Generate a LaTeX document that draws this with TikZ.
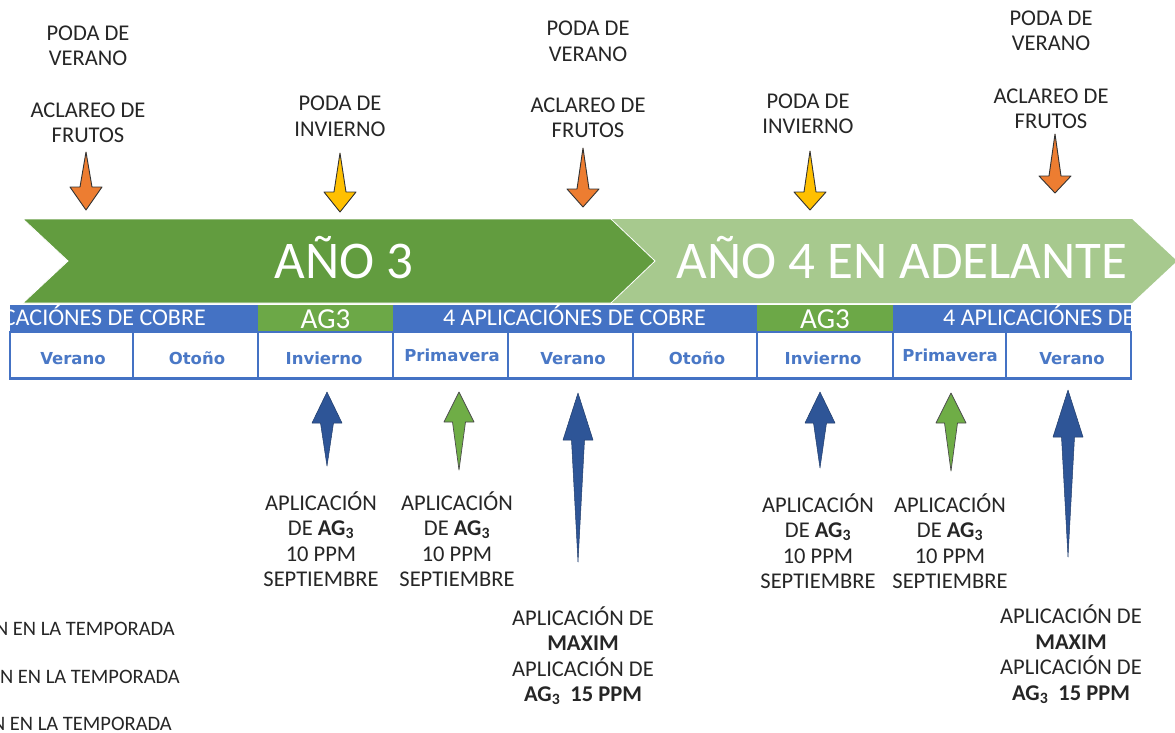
\documentclass[tikz,border=0pt]{standalone}
\usepackage{fontspec}
\setmainfont{Carlito}
\newfontfamily\seasonfont{DejaVu Sans}
\definecolor{bandDark}{HTML}{629C3F}
\definecolor{bandLight}{HTML}{A7C98E}
\definecolor{agGreen}{HTML}{6CA847}
\definecolor{cuBlue}{HTML}{4472C4}
\definecolor{seasonBlue}{HTML}{4A78C6}
\definecolor{arrOrange}{HTML}{ED7D31}
\definecolor{arrYellow}{HTML}{FFC000}
\definecolor{arrBlue}{HTML}{2E5597}
\definecolor{arrGreen}{HTML}{6FAD46}
\definecolor{txtDark}{HTML}{262626}
\newcommand\TaperDown[5]{\draw[#1] (#2,#3) -- (#2+6,#4) -- (#2+16,#4) -- (#2,#5) -- (#2-16,#4) -- (#2-6,#4) -- cycle;}
\newcommand\TaperUp[5]{\draw[#1] (#2,#3) -- (#2+15,#4) -- (#2+6.5,#4) -- (#2,#5) -- (#2-6.5,#4) -- (#2-15,#4) -- cycle;}
\begin{document}
\begin{tikzpicture}[x=1pt,y=-1pt,
  lbl/.style={align=center, font=\fontsize{22.5}{25.5}\selectfont, text=txtDark, inner sep=0pt},
  legend/.style={font=\fontsize{20.5}{24}\selectfont, text=txtDark, inner sep=0pt, anchor=base east},
  bandtext/.style={font=\fontsize{53}{60}\selectfont, text=white, inner sep=0pt, anchor=base},
  cutext/.style={font=\fontsize{24}{28}\selectfont, text=white, inner sep=0pt, anchor=base},
  agtext/.style={font=\fontsize{29}{32}\selectfont, text=white, inner sep=0pt, anchor=base},
  cuseg/.style={fill=cuBlue, draw=none, inner sep=0pt, minimum height=27pt},
  agseg/.style={fill=agGreen, draw=none, inner sep=0pt, minimum height=27pt},
  season/.style={draw=cuBlue, line width=1.2pt, fill=white, inner sep=0pt, minimum height=46pt},
  seasontext/.style={font=\seasonfont\bfseries\fontsize{16.5}{20}\selectfont, text=seasonBlue, inner sep=0pt, anchor=base},
  dnorange/.style={fill=arrOrange, draw=black!80, line width=0.9pt, line join=round},
  dnyellow/.style={fill=arrYellow, draw=black!80, line width=0.9pt, line join=round},
  upblue/.style={fill=arrBlue, draw=arrBlue!70!black, line width=0.5pt, line join=round},
  upgreen/.style={fill=arrGreen, draw=black!70, line width=0.7pt, line join=round}]
\useasboundingbox (0,0) rectangle (1175,733);
\clip (0,0) rectangle (1175,733);
\fill[white] (0,0) rectangle (1175,733);

% year bands
\fill[bandLight] (611,219) -- (1132,219) -- (1177,261) -- (1132,303) -- (611,303) -- (655,261) -- cycle;
\filldraw[fill=bandDark, draw=white, line width=0.8pt] (23,219) -- (611,219) -- (655,261) -- (611,303) -- (23,303) -- (68,261) -- cycle;
\node[bandtext] (y3) at (344,278) {AÑO 3};
\node[bandtext] (y4) at (902,278) {AÑO 4 EN ADELANTE};

% copper / AG3 bar
\node[cuseg, minimum width=248pt] (cu1) at (134,318) {};
\node[agseg, minimum width=135pt] (ag1) at (325.5,318) {};
\node[cuseg, minimum width=364pt] (cu2) at (575,318) {};
\node[agseg, minimum width=136pt] (ag2) at (825,318) {};
\node[cuseg, minimum width=238pt] (cu3) at (1012,318) {};
\begin{scope}
  \clip (cu1.north west) rectangle (cu1.south east);
  \node[cutext, anchor=base east] (cu1t) at (206,325) {4 APLICACIÓNES DE COBRE};
\end{scope}
\node[cutext] (cu2t) at (574.5,325) {4 APLICACIÓNES DE COBRE};
\begin{scope}
  \clip (cu3.north west) rectangle (cu3.south east);
  \node[cutext, anchor=base west] (cu3t) at (943,325) {4 APLICACIÓNES DE COBRE};
\end{scope}
\node[agtext] (ag1t) at (325.5,328) {AG3};
\node[agtext] (ag2t) at (825,328) {AG3};

% seasons
\node[season, minimum width=123pt] (s1) at (71.5,355) {};
\node[season, minimum width=125pt] (s2) at (195.5,355) {};
\node[season, minimum width=135pt] (s3) at (325.5,355) {};
\node[season, minimum width=115pt] (s4) at (450.5,355) {};
\node[season, minimum width=125pt] (s5) at (570.5,355) {};
\node[season, minimum width=124pt] (s6) at (695,355) {};
\node[season, minimum width=136pt] (s7) at (825,355) {};
\node[season, minimum width=113pt] (s8) at (949.5,355) {};
\node[season, minimum width=125pt] (s9) at (1068.5,355) {};
\draw[cuBlue, line width=2pt] (s1.south west) -- (s9.south east);
\node[seasontext] at (73,364) {Verano};
\node[seasontext] at (197,364) {Otoño};
\node[seasontext] at (324,364) {Invierno};
\node[seasontext] at (452,361) {Primavera};
\node[seasontext] at (573,364) {Verano};
\node[seasontext] at (697,364) {Otoño};
\node[seasontext] at (823,364) {Invierno};
\node[seasontext] at (950,361) {Primavera};
\node[seasontext] at (1072,364) {Verano};

% top labels
\node[lbl] (t1) at (88,46) {PODA DE\\VERANO};
\node[lbl] (t2) at (88,123) {ACLAREO DE\\FRUTOS};
\node[lbl] (t3) at (340,116.5) {PODA DE\\INVIERNO};
\node[lbl] (t4) at (588,41.5) {PODA DE\\VERANO};
\node[lbl] (t5) at (588,118) {ACLAREO DE\\FRUTOS};
\node[lbl] (t6) at (808,114) {PODA DE\\INVIERNO};
\node[lbl] (t7) at (1051,31) {PODA DE\\VERANO};
\node[lbl] (t8) at (1051,109) {ACLAREO DE\\FRUTOS};

% top arrows
\TaperDown{dnorange}{86}{152}{187}{210}
\TaperDown{dnyellow}{340}{153}{192}{212}
\TaperDown{dnorange}{583}{148}{189}{207}
\TaperDown{dnyellow}{810}{151}{192}{210}
\TaperDown{dnorange}{1055}{134}{176}{193}

% bottom arrows
\TaperUp{upblue}{327}{392}{423}{466}
\TaperUp{upgreen}{459}{392}{422}{470}
\TaperUp{upblue}{578}{393}{440}{562}
\TaperUp{upblue}{820}{392}{423}{468}
\TaperUp{upgreen}{951}{393}{423}{471}
\TaperUp{upblue}{1068}{390}{437}{557}

% bottom labels
\node[lbl] (b1) at (321,539) {APLICACIÓN\\DE \textbf{AG\textsubscript{3}}\\10 PPM\\SEPTIEMBRE};
\node[lbl] (b2) at (457,539) {APLICACIÓN\\DE \textbf{AG\textsubscript{3}}\\10 PPM\\SEPTIEMBRE};
\node[lbl] (b3) at (818,541) {APLICACIÓN\\DE \textbf{AG\textsubscript{3}}\\10 PPM\\SEPTIEMBRE};
\node[lbl] (b4) at (950,541) {APLICACIÓN\\DE \textbf{AG\textsubscript{3}}\\10 PPM\\SEPTIEMBRE};
\node[lbl] (m1) at (583,655.5) {APLICACIÓN DE\\\textbf{MAXIM}\\APLICACIÓN DE\\\textbf{AG\textsubscript{3}\ \ 15 PPM}};
\node[lbl] (m2) at (1071,654) {APLICACIÓN DE\\\textbf{MAXIM}\\APLICACIÓN DE\\\textbf{AG\textsubscript{3}\ \ 15 PPM}};

% legend (cut at the left edge)
\node[legend] (l1) at (175,635) {N EN LA TEMPORADA};
\node[legend] (l2) at (180,683) {N EN LA TEMPORADA};
\node[legend] (l3) at (172,730) {N EN LA TEMPORADA};
\end{tikzpicture}
\end{document}
